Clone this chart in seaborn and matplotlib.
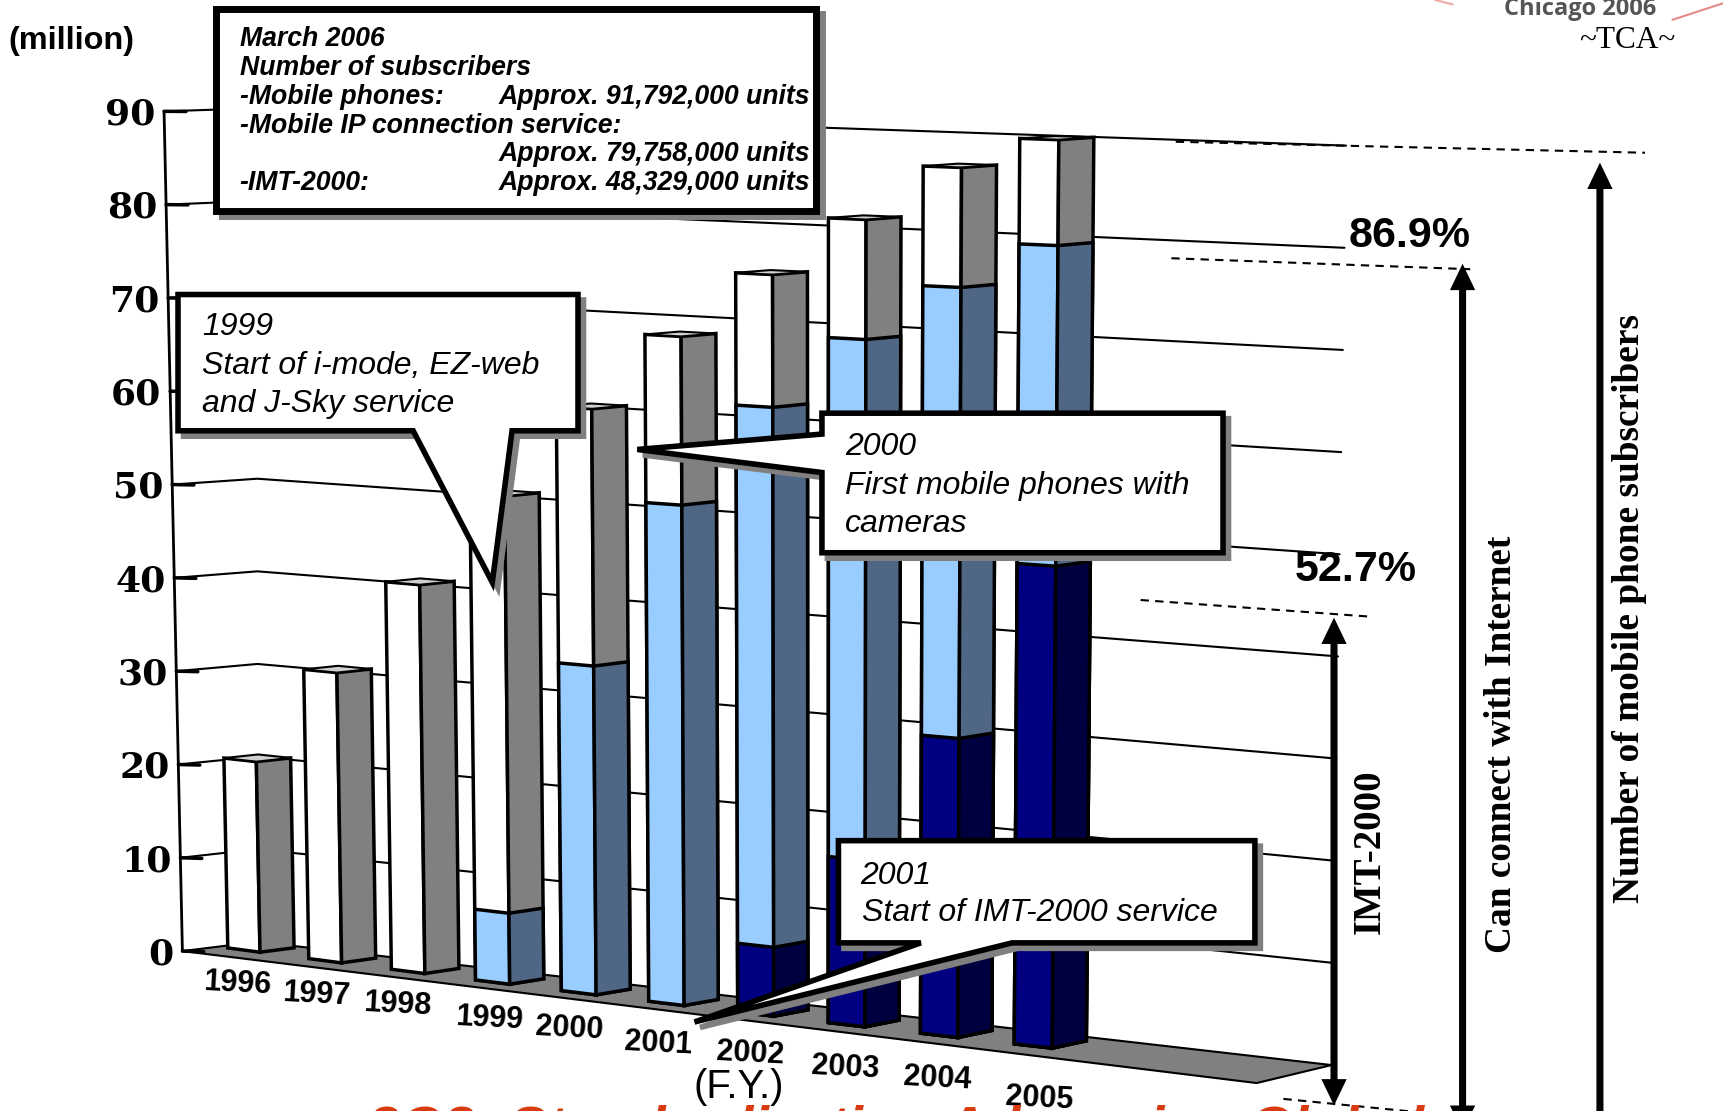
import numpy as np
import matplotlib
matplotlib.use("Agg")
import matplotlib.pyplot as plt
from matplotlib.patches import Polygon
from matplotlib.transforms import Transform
import seaborn as sns

# values (million)
years = np.array([1996, 1997, 1998, 1999, 2000, 2001, 2002, 2003, 2004, 2005])
subscribers = np.array([20.4, 30.8, 40.9, 50.9, 60.6, 68.6, 75.4, 81.4, 87.0, 90.1])
internet_years = np.array([1999, 2000, 2001, 2002, 2003, 2004, 2005])
internet = np.array([7.4, 34.0, 51.3, 61.9, 69.3, 75.0, 79.6])
imt_years = np.array([2002, 2003, 2004, 2005])
imt = np.array([7.0, 16.8, 29.9, 47.8])
value_ticks = [0, 10, 20, 30, 40, 50, 60, 70, 80, 90]
year_labels = ["1996", "1997", "1998", "1999", "2000", "2001", "2002", "2003", "2004", "2005"]

SANS = "Liberation Sans"
SERIF = "Liberation Serif"
FLOOR_START, FLOOR_END = -0.52, 11.47
BACK = 1.15


def project(a, v, d=0.0, lean=True):
    """a = years since 1996, v = value, d = depth (0 front corner, 1 back)."""
    a, v, d = np.asarray(a, float), np.asarray(v, float), np.asarray(d, float)
    px = 236.6 + 73.56 * a + 0.728 * a * a + d * 31
    off = (4 + 0.3 * a) * (1 - 0.67 * v / 90)
    py = 866.5 + 9.7 * a - d * off - v * (8.5 + 0.075 * a)
    if lean:
        px = px + 0.0286 * (px - 750) * v / 90
    return px, py


class FrontFace(Transform):
    input_dims = output_dims = 2

    def transform_non_affine(self, xy):
        xy = np.asarray(xy, float)
        return np.column_stack(project(xy[:, 0] - 1996, xy[:, 1], 0.0))


class SideFace(Transform):
    input_dims = output_dims = 2

    def transform_non_affine(self, xy):
        xy = np.asarray(xy, float)
        x = xy[:, 0] - 1996
        a = np.round(x)
        return np.column_stack(project(a, xy[:, 1], (x - a + 0.4) / 0.8))


sns.set_style("white")
plt.rcParams["text.color"] = "black"
fig = plt.figure(figsize=(17.23, 11.11), dpi=100)
ax = fig.add_axes([0, 0, 1, 1])
ax.set_autoscale_on(False)

front = FrontFace() + ax.transData
side = SideFace() + ax.transData


def draw_bars(x, y, front_color, side_color):
    for offset, width, color, trans in [(-0.2, 0.4, front_color, front), (0.0, 0.8, side_color, side)]:
        n = len(ax.patches)
        sns.barplot(x=x + offset, y=y, native_scale=True, width=width, color=color, saturation=1,
                    edgecolor="black", linewidth=2.5, errorbar=None, ax=ax)
        for p in ax.patches[n:]:
            p.set_transform(trans)
            p.set_clip_on(False)
            p.set_zorder(3)


# floor
fx, fy = project([FLOOR_START, FLOOR_END, FLOOR_END, FLOOR_START], 0, [-1.05, -1.05, BACK, BACK])
ax.fill(fx, fy, color="#808080", ec="black", lw=1.5, zorder=1)

# walls and gridlines
for v in value_ticks:
    px = [project(FLOOR_START, v, -1.05)[0], project(FLOOR_START, 0, BACK, lean=False)[0], project(FLOOR_END, v, BACK)[0]]
    py = [project(FLOOR_START, v, -1.05)[1], project(FLOOR_START, v, BACK)[1], project(FLOOR_END, v, BACK)[1]]
    if v > 0:
        ax.plot(px, py, color="black", lw=1.5, zorder=1.5)
    tx, ty = project(FLOOR_START + np.array([0, 0.16]), v, [-1.05, -0.8])
    ax.plot(tx, ty, color="black", lw=2.5, zorder=1.5)
    ax.text(px[0] - 8, py[0] + 3, str(v), ha="right", va="center", family="DejaVu Serif",
            weight="bold", fontsize=26, zorder=2)
ax.plot(*project(FLOOR_START, np.array([0, 90]), -1.05), color="black", lw=2, zorder=2)

draw_bars(years, subscribers, "#FFFFFF", "#808080")
draw_bars(internet_years, internet, "#99CCFF", "#4F6685")
draw_bars(imt_years, imt, "#000080", "#000040")

# caps
for i, v in enumerate(subscribers):
    cx, cy = project([i - 0.4, i, i, i - 0.4], v, [0, 0, 1, 1])
    ax.fill(cx, cy, fc="#D0D0D0", ec="black", lw=1.5, zorder=3.1)

for label, lx, ly in zip(year_labels, [216, 288, 362, 445, 518, 599, 683, 769, 853, 946],
                         [895, 905, 914, 927, 936, 950, 959, 972, 982, 1000]):
    ax.text(lx, ly, label, ha="center", va="center", family=SANS, weight="bold", fontsize=22,
            rotation=-3, zorder=4)
ax.text(672, 989, "(F.Y.)", ha="center", va="center", family=SANS, fontsize=29, zorder=6)

# dashed guides
for (x0, y0, x1, y1) in [(1070, 129, 1497, 139), (1066, 235, 1338, 245), (1038, 546, 1245, 561), (1168, 1000, 1300, 1013)]:
    ax.plot([x0, x1], [y0, y1], color="black", lw=1.5, ls=(0, (4, 3)), zorder=4)


def double_arrow(x, top, bottom, half=3.2, head_w=11.5, head_l=24):
    pts = [(x, top), (x + head_w, top + head_l), (x + half, top + head_l), (x + half, bottom - head_l),
           (x + head_w, bottom - head_l), (x, bottom), (x - head_w, bottom - head_l), (x - half, bottom - head_l),
           (x - half, top + head_l), (x - head_w, top + head_l)]
    ax.add_patch(Polygon(pts, closed=True, fc="black", ec="none", zorder=5, clip_on=False))


double_arrow(1214, 562, 1006)
double_arrow(1331, 240, 1030)
double_arrow(1456, 148, 1035)

ax.text(1247, 775, "IMT-2000", rotation=90, ha="center", va="center", family=SERIF, weight="bold", fontsize=28)
ax.text(1366, 677, "Can connect with Internet", rotation=90, ha="center", va="center", family=SERIF, weight="bold", fontsize=26.8)
ax.text(1483, 554, "Number of mobile phone subscribers", rotation=90, ha="center", va="center", family=SERIF, weight="bold", fontsize=26.9)
ax.text(1283, 215, "86.9%", ha="center", va="center", family=SANS, weight="bold", fontsize=31, zorder=6)
ax.text(1234, 519, "52.7%", ha="center", va="center", family=SANS, weight="bold", fontsize=31, zorder=6)


def callout(pts, lw):
    shadow = [(x + 5, y + 5) for x, y in pts]
    ax.add_patch(Polygon(shadow, closed=True, fc="#808080", ec="#808080", lw=lw, zorder=6, joinstyle="miter"))
    ax.add_patch(Polygon(pts, closed=True, fc="white", ec="black", lw=lw, zorder=6.1, joinstyle="miter"))


callout([(197, 8), (743, 8), (743, 192), (197, 192)], 5)
callout([(162, 268), (526, 268), (526, 392), (466, 392), (448, 530), (376, 392), (162, 392)], 4)
callout([(748, 376), (1113, 376), (1113, 503), (748, 503), (748, 430), (580, 409), (748, 395)], 4)
callout([(763, 765), (1142, 765), (1142, 858), (921, 858), (632, 930), (838, 858), (763, 858)], 4)

box_font = dict(family=SANS, weight="bold", style="italic", fontsize=19.2, va="center", zorder=7)
for line, yy in [("March 2006", 35.5), ("Number of subscribers", 61.5), ("-Mobile phones:", 88.5),
                 ("-Mobile IP connection service:", 114.5), ("-IMT-2000:", 166.5)]:
    ax.text(218, yy, line, **box_font)
for line, yy in [("Approx. 91,792,000 units", 88.5), ("Approx. 79,758,000 units", 140.5), ("Approx. 48,329,000 units", 166.5)]:
    ax.text(454, yy, line, **box_font)

note_font = dict(family=SANS, style="italic", fontsize=23, va="center", zorder=7)
for line, xx, yy in [("1999", 184, 298), ("Start of i-mode, EZ-web", 184, 333), ("and J-Sky service", 184, 368),
                     ("2000", 769, 407), ("First mobile phones with", 769, 442), ("cameras", 769, 477),
                     ("2001", 783, 797), ("Start of IMT-2000 service", 784, 831)]:
    ax.text(xx, yy, line, **note_font)

ax.text(8, 37, "(million)", family=SANS, weight="bold", fontsize=23.4, va="center")
ax.text(1481, 37, "~TCA~", family=SERIF, fontsize=22.5, ha="center", va="center")
ax.text(1438, 8, "Chicago 2006", family="Open Sans", weight="bold", fontsize=17, color="#555555", ha="center", va="center")
ax.plot([1522, 1568], [18, 3], color="#E58A8A", lw=1.5)
ax.plot([1306, 1322], [0, 4], color="#EFA8A8", lw=1.5)
ax.text(335, 1042, "3G3: Standardization Advancing Global", family=SANS, weight="bold", style="italic",
        fontsize=40.6, color="#D93A10", va="baseline", zorder=4)

ax.set_xlim(0, 1568)
ax.set_ylim(1011, 0)
ax.set_axis_off()
fig.savefig("out.png", dpi=100)
